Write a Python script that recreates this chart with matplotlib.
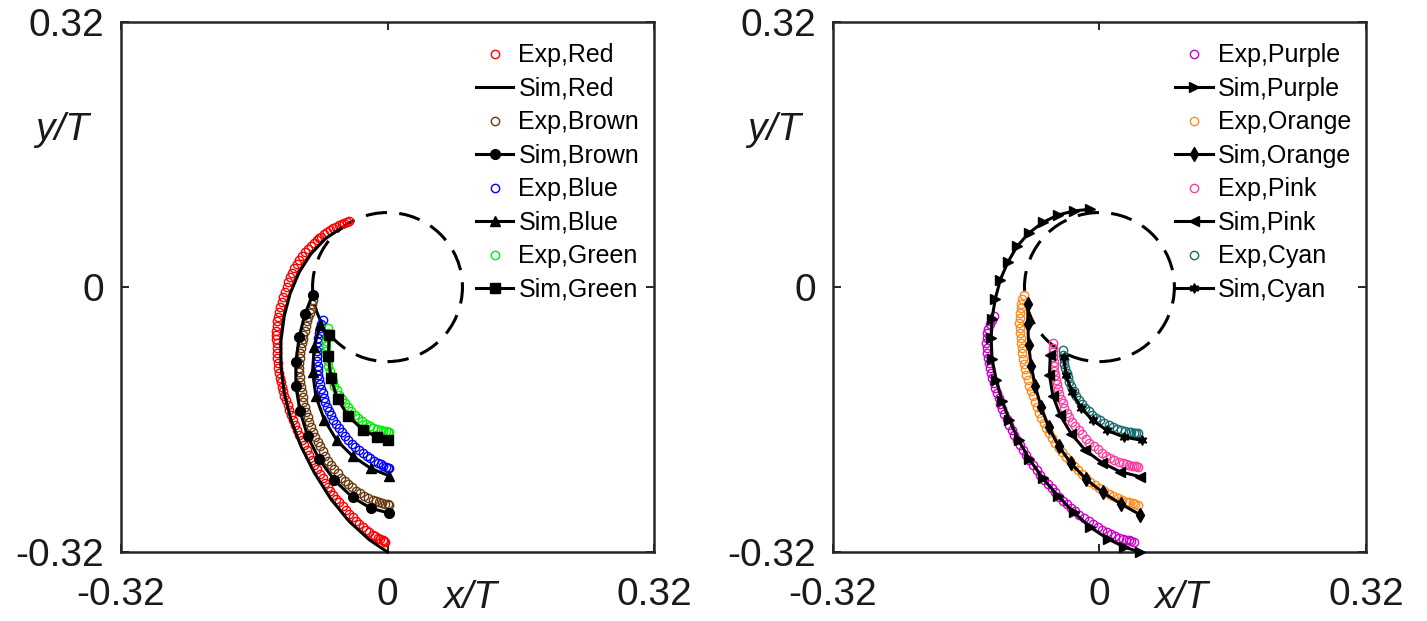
import numpy as np
import matplotlib
matplotlib.use("Agg")
import matplotlib.pyplot as plt
from matplotlib.patches import Circle

plt.rcParams["font.family"] = ["Liberation Sans", "DejaVu Sans"]

# Axis settings
tick_values = [-0.32, 0, 0.32]
tick_labels = ["-0.32", "0", "0.32"]
circle_radius = 0.09

# ---- Left panel: measured (Exp) and simulated (Sim) trajectories ----
red_exp = [(-0.046, 0.080), (-0.049, 0.0785), (-0.052, 0.077), (-0.055, 0.076), (-0.058, 0.075),
           (-0.062, 0.073), (-0.066, 0.071), (-0.0695, 0.0685), (-0.073, 0.066), (-0.0765, 0.0635),
           (-0.080, 0.061), (-0.0825, 0.059), (-0.085, 0.057), (-0.0885, 0.0535), (-0.092, 0.050),
           (-0.0955, 0.046), (-0.099, 0.042), (-0.1025, 0.0375), (-0.106, 0.033), (-0.109, 0.028),
           (-0.112, 0.023), (-0.1145, 0.0175), (-0.117, 0.012), (-0.119, 0.006), (-0.121, 0.000),
           (-0.123, -0.006), (-0.125, -0.012), (-0.127, -0.018), (-0.129, -0.024), (-0.1305, -0.030),
           (-0.132, -0.036), (-0.1325, -0.0415), (-0.133, -0.047), (-0.1335, -0.0525), (-0.134, -0.058),
           (-0.1335, -0.063), (-0.133, -0.068), (-0.133, -0.074), (-0.133, -0.080), (-0.1325, -0.086),
           (-0.132, -0.092), (-0.131, -0.098), (-0.130, -0.104), (-0.129, -0.1095), (-0.128, -0.115),
           (-0.127, -0.1205), (-0.126, -0.126), (-0.124, -0.131), (-0.122, -0.136), (-0.120, -0.142),
           (-0.118, -0.148), (-0.116, -0.154), (-0.114, -0.160), (-0.1115, -0.1665), (-0.109, -0.173),
           (-0.106, -0.179), (-0.103, -0.185), (-0.100, -0.191), (-0.097, -0.197), (-0.094, -0.203),
           (-0.091, -0.209), (-0.088, -0.2145), (-0.085, -0.220), (-0.0815, -0.2255), (-0.078, -0.231),
           (-0.075, -0.2365), (-0.072, -0.242), (-0.0685, -0.2465), (-0.065, -0.251), (-0.0615, -0.2555),
           (-0.058, -0.260), (-0.054, -0.2645), (-0.050, -0.269), (-0.046, -0.2735), (-0.042, -0.278),
           (-0.038, -0.282), (-0.034, -0.286), (-0.030, -0.2895), (-0.026, -0.293), (-0.022, -0.296),
           (-0.018, -0.299), (-0.015, -0.301), (-0.012, -0.303), (-0.009, -0.3045), (-0.006, -0.306),
           (-0.0045, -0.307), (-0.003, -0.308)]
red_sim = [(-0.056, 0.071), (-0.075, 0.058), (-0.092, 0.040), (-0.106, 0.018), (-0.117, -0.008),
           (-0.124, -0.035), (-0.128, -0.065), (-0.128, -0.095), (-0.124, -0.128), (-0.116, -0.160),
           (-0.104, -0.192), (-0.088, -0.224), (-0.068, -0.256), (-0.046, -0.283), (-0.022, -0.305),
           (0.000, -0.320)]

brown_exp = [(-0.089, -0.016), (-0.0905, -0.021), (-0.092, -0.026), (-0.0935, -0.031), (-0.095, -0.036),
             (-0.0965, -0.0415), (-0.098, -0.047), (-0.0995, -0.0525), (-0.101, -0.058), (-0.102, -0.063),
             (-0.103, -0.068), (-0.104, -0.074), (-0.105, -0.080), (-0.1055, -0.086), (-0.106, -0.092),
             (-0.106, -0.0975), (-0.106, -0.103), (-0.1055, -0.109), (-0.105, -0.115), (-0.104, -0.121),
             (-0.103, -0.127), (-0.102, -0.133), (-0.101, -0.139), (-0.0995, -0.145), (-0.098, -0.151),
             (-0.096, -0.157), (-0.094, -0.163), (-0.0915, -0.169), (-0.089, -0.175), (-0.0865, -0.181),
             (-0.084, -0.187), (-0.081, -0.1925), (-0.078, -0.198), (-0.0745, -0.204), (-0.071, -0.210),
             (-0.0675, -0.215), (-0.064, -0.220), (-0.060, -0.225), (-0.056, -0.230), (-0.0515, -0.234),
             (-0.047, -0.238), (-0.0425, -0.242), (-0.038, -0.246), (-0.033, -0.249), (-0.028, -0.252),
             (-0.023, -0.2545), (-0.018, -0.257), (-0.014, -0.2585), (-0.010, -0.260), (-0.0065, -0.261),
             (-0.003, -0.262), (0.000, -0.2625), (0.002, -0.263)]
brown_sim = [(-0.090, -0.010), (-0.099, -0.032), (-0.106, -0.060), (-0.110, -0.090), (-0.110, -0.120),
             (-0.105, -0.150), (-0.096, -0.180), (-0.082, -0.208), (-0.064, -0.233), (-0.042, -0.254),
             (-0.020, -0.267), (0.002, -0.273)]

blue_exp = [(-0.078, -0.040), (-0.0795, -0.045), (-0.081, -0.050), (-0.082, -0.0555), (-0.083, -0.061),
            (-0.0835, -0.0665), (-0.084, -0.072), (-0.0845, -0.0775), (-0.085, -0.083), (-0.0845, -0.089),
            (-0.084, -0.095), (-0.0835, -0.1005), (-0.083, -0.106), (-0.082, -0.1115), (-0.081, -0.117),
            (-0.0795, -0.1225), (-0.078, -0.128), (-0.0765, -0.1335), (-0.075, -0.139), (-0.0725, -0.1445),
            (-0.070, -0.150), (-0.0675, -0.155), (-0.065, -0.160), (-0.0615, -0.165), (-0.058, -0.170),
            (-0.0545, -0.175), (-0.051, -0.180), (-0.047, -0.1845), (-0.043, -0.189), (-0.0385, -0.193),
            (-0.034, -0.197), (-0.0295, -0.2005), (-0.025, -0.204), (-0.0205, -0.207), (-0.016, -0.210),
            (-0.012, -0.212), (-0.008, -0.214), (-0.005, -0.2155), (-0.002, -0.217), (0.000, -0.218),
            (0.002, -0.219)]
blue_sim = [(-0.081, -0.046), (-0.088, -0.072), (-0.090, -0.102), (-0.086, -0.132), (-0.076, -0.160),
            (-0.061, -0.185), (-0.042, -0.204), (-0.020, -0.219), (0.002, -0.228)]

green_exp = [(-0.071, -0.050), (-0.072, -0.055), (-0.073, -0.060), (-0.0735, -0.0655), (-0.074, -0.071),
             (-0.0735, -0.077), (-0.073, -0.083), (-0.072, -0.089), (-0.071, -0.095), (-0.0695, -0.101),
             (-0.068, -0.107), (-0.066, -0.113), (-0.064, -0.119), (-0.061, -0.1245), (-0.058, -0.130),
             (-0.0545, -0.135), (-0.051, -0.140), (-0.0475, -0.145), (-0.044, -0.150), (-0.0395, -0.154),
             (-0.035, -0.158), (-0.0305, -0.1615), (-0.026, -0.165), (-0.0215, -0.1675), (-0.017, -0.170),
             (-0.0125, -0.1715), (-0.008, -0.173), (-0.005, -0.1735), (-0.002, -0.174), (0.000, -0.1745),
             (0.002, -0.175)]
green_sim = [(-0.070, -0.058), (-0.071, -0.083), (-0.068, -0.110), (-0.060, -0.135), (-0.047, -0.156),
             (-0.030, -0.172), (-0.013, -0.181), (0.001, -0.185)]

# ---- Right panel ----
purple_exp = [(-0.127, -0.035), (-0.1295, -0.040), (-0.132, -0.045), (-0.1335, -0.0505), (-0.135, -0.056),
              (-0.1355, -0.062), (-0.136, -0.068), (-0.1355, -0.074), (-0.135, -0.080), (-0.134, -0.086),
              (-0.133, -0.092), (-0.1315, -0.098), (-0.130, -0.104), (-0.1285, -0.110), (-0.127, -0.116),
              (-0.125, -0.122), (-0.123, -0.128), (-0.121, -0.1345), (-0.119, -0.141), (-0.1165, -0.147),
              (-0.114, -0.153), (-0.111, -0.1595), (-0.108, -0.166), (-0.105, -0.1725), (-0.102, -0.179),
              (-0.0985, -0.185), (-0.095, -0.191), (-0.0915, -0.197), (-0.088, -0.203), (-0.084, -0.209),
              (-0.080, -0.215), (-0.0755, -0.221), (-0.071, -0.227), (-0.0665, -0.2325), (-0.062, -0.238),
              (-0.0575, -0.243), (-0.053, -0.248), (-0.0485, -0.253), (-0.044, -0.258), (-0.039, -0.2625),
              (-0.034, -0.267), (-0.029, -0.271), (-0.024, -0.275), (-0.0185, -0.279), (-0.013, -0.283),
              (-0.0075, -0.2865), (-0.002, -0.290), (0.0035, -0.293), (0.009, -0.296), (0.014, -0.2985),
              (0.019, -0.301), (0.0235, -0.3025), (0.028, -0.304), (0.0315, -0.305), (0.035, -0.306),
              (0.038, -0.307), (0.041, -0.308)]
purple_sim = [(-0.011, 0.094), (-0.030, 0.092), (-0.050, 0.087), (-0.068, 0.078), (-0.085, 0.065),
              (-0.099, 0.049), (-0.110, 0.030), (-0.119, 0.009), (-0.125, -0.014), (-0.129, -0.038),
              (-0.130, -0.062), (-0.129, -0.087), (-0.124, -0.112), (-0.117, -0.137), (-0.108, -0.161),
              (-0.097, -0.185), (-0.084, -0.208), (-0.068, -0.231), (-0.050, -0.252), (-0.031, -0.272),
              (-0.011, -0.290), (0.010, -0.304), (0.030, -0.314), (0.049, -0.320)]

orange_exp = [(-0.091, -0.010), (-0.0925, -0.015), (-0.094, -0.020), (-0.0945, -0.0255), (-0.095, -0.031),
              (-0.0955, -0.037), (-0.096, -0.043), (-0.0955, -0.049), (-0.095, -0.055), (-0.0945, -0.0615),
              (-0.094, -0.068), (-0.0935, -0.074), (-0.093, -0.080), (-0.092, -0.0865), (-0.091, -0.093),
              (-0.0895, -0.0995), (-0.088, -0.106), (-0.086, -0.1125), (-0.084, -0.119), (-0.082, -0.1255),
              (-0.080, -0.132), (-0.0775, -0.1385), (-0.075, -0.145), (-0.0725, -0.1515), (-0.070, -0.158),
              (-0.067, -0.164), (-0.064, -0.170), (-0.0605, -0.176), (-0.057, -0.182), (-0.053, -0.188),
              (-0.049, -0.194), (-0.0445, -0.1995), (-0.040, -0.205), (-0.0355, -0.2105), (-0.031, -0.216),
              (-0.026, -0.221), (-0.021, -0.226), (-0.016, -0.2305), (-0.011, -0.235), (-0.0055, -0.239),
              (0.000, -0.243), (0.0055, -0.2465), (0.011, -0.250), (0.0165, -0.2525), (0.022, -0.255),
              (0.027, -0.257), (0.032, -0.259), (0.036, -0.260), (0.040, -0.261), (0.043, -0.262),
              (0.046, -0.263)]
orange_sim = [(-0.086, -0.020), (-0.086, -0.045), (-0.085, -0.070), (-0.082, -0.095), (-0.077, -0.120),
              (-0.070, -0.145), (-0.061, -0.169), (-0.049, -0.192), (-0.034, -0.213), (-0.016, -0.232),
              (0.004, -0.248), (0.026, -0.262), (0.049, -0.275)]

pink_exp = [(-0.056, -0.068), (-0.056, -0.0735), (-0.056, -0.079), (-0.0555, -0.0845), (-0.055, -0.090),
            (-0.0545, -0.0955), (-0.054, -0.101), (-0.053, -0.1065), (-0.052, -0.112), (-0.051, -0.1175),
            (-0.050, -0.123), (-0.048, -0.129), (-0.046, -0.135), (-0.044, -0.1405), (-0.042, -0.146),
            (-0.039, -0.1515), (-0.036, -0.157), (-0.0325, -0.1625), (-0.029, -0.168), (-0.025, -0.173),
            (-0.021, -0.178), (-0.0165, -0.183), (-0.012, -0.188), (-0.007, -0.192), (-0.002, -0.196),
            (0.003, -0.200), (0.008, -0.204), (0.013, -0.2065), (0.018, -0.209), (0.023, -0.211),
            (0.028, -0.213), (0.032, -0.214), (0.036, -0.215), (0.039, -0.2155), (0.042, -0.216),
            (0.044, -0.2165), (0.046, -0.217)]
pink_sim = [(-0.059, -0.082), (-0.060, -0.106), (-0.056, -0.131), (-0.047, -0.155), (-0.034, -0.177),
            (-0.017, -0.197), (0.003, -0.212), (0.025, -0.223), (0.049, -0.229)]

cyan_exp = [(-0.044, -0.076), (-0.0435, -0.0815), (-0.043, -0.087), (-0.042, -0.0925), (-0.041, -0.098),
            (-0.0395, -0.1035), (-0.038, -0.109), (-0.036, -0.1145), (-0.034, -0.120), (-0.031, -0.1255),
            (-0.028, -0.131), (-0.0245, -0.136), (-0.021, -0.141), (-0.017, -0.1455), (-0.013, -0.150),
            (-0.0085, -0.154), (-0.004, -0.158), (0.001, -0.161), (0.006, -0.164), (0.011, -0.1665),
            (0.016, -0.169), (0.021, -0.171), (0.026, -0.173), (0.0305, -0.174), (0.035, -0.175),
            (0.038, -0.1755), (0.041, -0.176), (0.0435, -0.176), (0.046, -0.176)]
cyan_sim = [(-0.043, -0.085), (-0.040, -0.106), (-0.033, -0.127), (-0.022, -0.146), (-0.008, -0.161),
            (0.009, -0.173), (0.029, -0.181), (0.051, -0.185)]

left_names = ["Red", "Brown", "Blue", "Green"]
left_colors = ["#ff0000", "#6b3a0e", "#0000ff", "#00ee00"]
left_markers = [None, "o", "^", "s"]
left_exp = [red_exp, brown_exp, blue_exp, green_exp]
left_sim = [red_sim, brown_sim, blue_sim, green_sim]

right_names = ["Purple", "Orange", "Pink", "Cyan"]
right_colors = ["#cc00cc", "#ff8c1a", "#ff3fa0", "#1a6b6b"]
right_markers = [">", "d", "<", (6, 1, 0)]
right_exp = [purple_exp, orange_exp, pink_exp, cyan_exp]
right_sim = [purple_sim, orange_sim, pink_sim, cyan_sim]

AXIS_COLOR = "#262626"


def draw_panel(ax, names, colors, markers, exps, sims):
    for name, col, mk, e, s in zip(names, colors, markers, exps, sims):
        e = np.array(e)
        s = np.array(s)
        ax.plot(e[:, 0], e[:, 1], "o", mfc="none", mec=col, ms=6, mew=1.0,
                label="Exp," + name, zorder=2)
        ax.plot(s[:, 0], s[:, 1], "-", color="k", lw=2.2, marker=mk, ms=7,
                mfc="k", mec="k", label="Sim," + name, zorder=3, clip_on=False)

    # dashed reference circle
    circ = Circle((0, 0), circle_radius, fill=False, ls=(0, (7, 4)), lw=2.2,
                  color="k", zorder=1)
    ax.add_patch(circ)

    ax.set_xlim(tick_values[0], tick_values[-1])
    ax.set_ylim(tick_values[0], tick_values[-1])
    ax.set_xticks(tick_values)
    ax.set_xticklabels(tick_labels)
    ax.set_yticks(tick_values)
    ax.set_yticklabels(tick_labels)
    ax.tick_params(direction="in", top=True, right=True, length=6, width=1.4,
                   color=AXIS_COLOR, labelsize=28, labelcolor="#1a1a1a")
    ax.tick_params(axis="x", pad=18)
    ax.tick_params(axis="y", pad=12)
    for sp in ax.spines.values():
        sp.set_color(AXIS_COLOR)
        sp.set_linewidth(1.8)

    ax.text(0.655, -0.087, "x/T", transform=ax.transAxes, ha="center", va="center",
            fontsize=28, style="italic", color="#1a1a1a")
    ax.text(-0.11, 0.796, "y/T", transform=ax.transAxes, ha="center", va="center",
            fontsize=28, style="italic", color="#1a1a1a")

    ax.legend(loc="upper right", bbox_to_anchor=(1.005, 0.993), frameon=False,
              fontsize=18, handlelength=1.5, handletextpad=0.2, labelspacing=0.38,
              numpoints=1, borderaxespad=0.3)


fig = plt.figure(figsize=(14.27, 6.21), dpi=100)
ax1 = fig.add_axes([0.0848, 0.111, 0.3735, 0.8535])
ax2 = fig.add_axes([0.5837, 0.111, 0.3735, 0.8535])

draw_panel(ax1, left_names, left_colors, left_markers, left_exp, left_sim)
draw_panel(ax2, right_names, right_colors, right_markers, right_exp, right_sim)

fig.savefig("out.png", dpi=100)
